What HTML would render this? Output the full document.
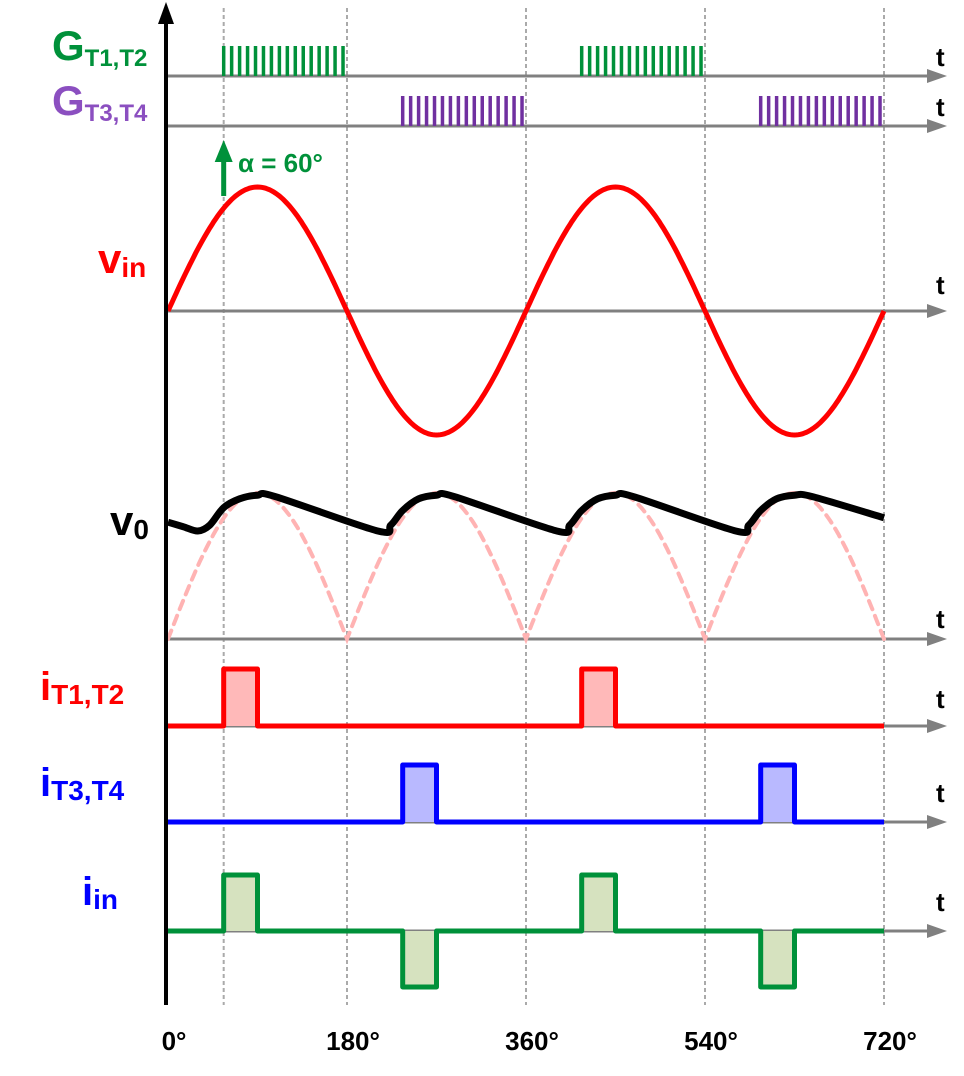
<!DOCTYPE html>
<html><head><meta charset="utf-8"><style>
body{margin:0;background:#fff;width:964px;height:1076px;overflow:hidden}
svg{display:block}
text{font-family:"Liberation Sans",sans-serif;font-weight:bold}
</style></head><body>
<svg id="c" width="964" height="1076" viewBox="0 0 964 1076"></svg>
<script>
const xTickDeg=[0,180,360,540,720];
const xTickLabels=["0°","180°","360°","540°","720°"];
const firingStarts=[56,236,416,596];
const conductEnd=34;
const gateEnd=[179,359,539,719];
const v0Deg=[0,15,30,42,56,72,90,108,211,224,236,252,270,288,391,404,416,432,450,468,571,584,596,612,630,648,720];
const v0Val=[0.80,0.77,0.74,0.78,0.90,0.96,0.985,0.975,0.74,0.78,0.88,0.96,0.985,0.975,0.74,0.78,0.88,0.96,0.985,0.975,0.74,0.78,0.88,0.96,0.985,0.975,0.83];
const vinAmp=1.0;

const NS="http://www.w3.org/2000/svg";
const svg=document.getElementById('c');
const X=d=>168+d*(884-168)/720;
function el(tag,attrs,name,parent){
  const e=document.createElementNS(NS,tag);
  for(const k in attrs)e.setAttribute(k,attrs[k]);
  
  
  (parent||svg).appendChild(e);return e;
}
function txt(x,y,s,size,fill,name,anchor){
  const t=el('text',{x:x,y:y,'font-size':size,fill:fill,'text-anchor':anchor||'start'},name);
  t.innerHTML=s;return t;
}
[56,180,360,540,720].forEach((d,i)=>{
  el('line',{x1:X(d),y1:8,x2:X(d),y2:1005,stroke:'#aaa','stroke-width':2,'stroke-dasharray':'4 3'},'grid-line-'+i);
});
const axesY=[76,126,311,639,726,822,931];
const tY=[66,116,294,628,708,802,911];
axesY.forEach((y,i)=>{
  el('line',{x1:168,y1:y,x2:930,y2:y,stroke:'#808080','stroke-width':3},'time-axis-'+i);
  el('polygon',{points:`927,${y-7} 947,${y} 927,${y+7}`,fill:'#808080'},'time-axis-arrow-'+i);
  txt(936,tY[i],'t',26,'#000','t-label-'+i);
});
function gates(starts,ends,base,color,name){
  starts.forEach((s,k)=>{
    for(let d=s;d<=ends[k]+0.5;d+=8){
      el('line',{x1:X(d),y1:base-30,x2:X(d),y2:base,stroke:color,'stroke-width':3.5},name);
    }
  });
}
gates([firingStarts[0],firingStarts[2]],[gateEnd[0],gateEnd[2]],76,'#00913a','gate-pulse-t1t2');
gates([firingStarts[1],firingStarts[3]],[gateEnd[1],gateEnd[3]],126,'#7030a0','gate-pulse-t3t4');
const vA=124,vY=311;
let p='';for(let d=0;d<=720;d+=2){p+=(d?'L':'M')+X(d).toFixed(1)+','+(vY-vA*vinAmp*Math.sin(d*Math.PI/180)).toFixed(1);}
el('path',{d:p,fill:'none',stroke:'#ff0000','stroke-width':5},'vin-waveform');
el('line',{x1:X(firingStarts[0]),y1:196,x2:X(firingStarts[0]),y2:158,stroke:'#00913a','stroke-width':5},'alpha-arrow');
el('polygon',{points:`${X(firingStarts[0])-9},162 ${X(firingStarts[0])},140 ${X(firingStarts[0])+9},162`,fill:'#00913a'},'alpha-arrow-head');
txt(238,172,'α = 60°',26,'#00913a','alpha-label');
const oY=639,oA=146;
p='';for(let d=0;d<=720;d+=2){p+=(d?'L':'M')+X(d).toFixed(1)+','+(oY-oA*Math.abs(Math.sin(d*Math.PI/180))).toFixed(1);}
el('path',{d:p,fill:'none',stroke:'#ffb3b3','stroke-width':4,'stroke-dasharray':'9 7','stroke-linecap':'round'},'rectified-vin-dashed');
const pts=v0Deg.map((d,i)=>[X(d),oY-oA*v0Val[i]]);
p='M'+pts[0].join(',');
for(let i=0;i<pts.length-1;i++){
  const p0=pts[Math.max(0,i-1)],p1=pts[i],p2=pts[i+1],p3=pts[Math.min(pts.length-1,i+2)];
  const c1=[p1[0]+(p2[0]-p0[0])/6,p1[1]+(p2[1]-p0[1])/6],c2=[p2[0]-(p3[0]-p1[0])/6,p2[1]-(p3[1]-p1[1])/6];
  p+=`C${c1[0].toFixed(1)},${c1[1].toFixed(1)} ${c2[0].toFixed(1)},${c2[1].toFixed(1)} ${p2[0].toFixed(1)},${p2[1].toFixed(1)}`;
}
el('path',{d:p,fill:'none',stroke:'#000','stroke-width':7,'stroke-linejoin':'round'},'v0-waveform');
function pulses(starts,signs,base,h,stroke,fill,name){
  let d='M'+X(0)+','+base;
  starts.forEach((s,k)=>{
    const y=base-signs[k]*h;
    el('rect',{x:X(s),y:Math.min(y,base),width:X(s+conductEnd)-X(s),height:h,fill:fill},name+'-fill-'+k);
    d+=`L${X(s)},${base}L${X(s)},${y}L${X(s+conductEnd)},${y}L${X(s+conductEnd)},${base}`;
  });
  d+=`L${X(720)},${base}`;
  el('path',{d:d,fill:'none',stroke:stroke,'stroke-width':5,'stroke-linejoin':'round'},name);
}
pulses([firingStarts[0],firingStarts[2]],[1,1],726,57,'#ff0000','#ffb9b9','it1t2-waveform');
pulses([firingStarts[1],firingStarts[3]],[1,1],822,57,'#0000ff','#b9b9ff','it3t4-waveform');
pulses(firingStarts,[1,-1,1,-1],931,56,'#00913a','#d6e2bf','iin-waveform');
el('line',{x1:166,y1:1005,x2:166,y2:20,stroke:'#000','stroke-width':4},'y-axis');
el('polygon',{points:'158,24 166,2 174,24',fill:'#000'},'y-axis-arrow');
txt(52,60,'G<tspan font-size="24" dy="6">T1,T2</tspan>',42,'#00913a','label-gt1t2');
txt(52,115,'G<tspan font-size="24" dy="6">T3,T4</tspan>',42,'#8b4fc0','label-gt3t4');
txt(98,273,'v<tspan font-size="28" dy="4">in</tspan>',42,'#ff0000','label-vin');
txt(110,535,'v<tspan font-size="28" dy="4">0</tspan>',42,'#000','label-v0');
txt(40,700,'i<tspan font-size="28" dy="4">T1,T2</tspan>',40,'#ff0000','label-it1t2');
txt(40,796,'i<tspan font-size="28" dy="4">T3,T4</tspan>',40,'#0000ff','label-it3t4');
txt(82,905,'i<tspan font-size="28" dy="4">in</tspan>',40,'#0000ff','label-iin');
xTickDeg.forEach((d,i)=>txt(X(d)+6,1050,xTickLabels[i],26,'#000','x-tick-label-'+i,'middle'));
</script>
</body></html>
